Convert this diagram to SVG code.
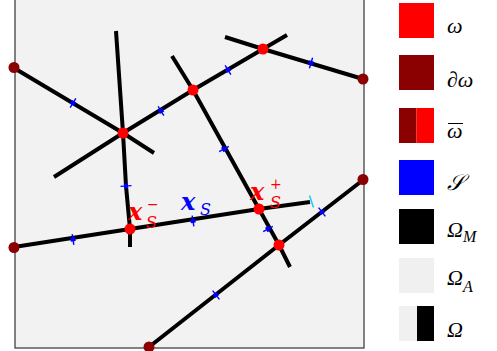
<svg xmlns="http://www.w3.org/2000/svg" xmlns:xlink="http://www.w3.org/1999/xlink" width="497" height="351" viewBox="0 0 497 351">
<style>
.seg{fill:none;stroke:#000;stroke-width:4;stroke-linejoin:round}
.nd{fill:#FF0000}
.bd{fill:#8B0000}
.lab{font-family:"DejaVu Serif","Liberation Serif",serif;font-style:italic}
.bx{font-weight:bold;font-size:24px}
.sub{font-size:16px}
.sup{font-size:14px}
.leg{font-family:"Liberation Serif","DejaVu Serif",serif;font-style:italic;font-size:22px;fill:#000}
</style>
<defs>
<g id="tick">
<line x1="-2.5" y1="0" x2="2.5" y2="0" stroke="#0000FF" stroke-width="4"/>
<line x1="0" y1="-5.5" x2="0" y2="5.5" stroke="#0000FF" stroke-width="1.4"/>
</g>
</defs>
<rect x="0" y="0" width="497" height="351" fill="#fff"/>
<rect id="domain" x="15" y="-5" width="349" height="353" fill="#F2F2F2" stroke="#333" stroke-width="1.2"/>
<g id="connectors">
<polyline class="seg" points="14,68 123,133 154,153"/>
<polyline class="seg" points="116,31 123,133 126,186 130,229 130,247"/>
<polyline class="seg" points="54,177 123,133 193,90 263,49 287,35"/>
<polyline class="seg" points="225,37 263,49 363,79"/>
<polyline class="seg" points="172,56 193,90 259,209 279,245 290,267"/>
<polyline class="seg" points="14,247 130,229 259,209 310,202"/>
<polyline class="seg" points="149,347 279,245 363,180"/>
<line x1="309.5" y1="195.5" x2="313.5" y2="207.5" stroke="#1EC8F0" stroke-width="1.5"/>
</g>
<g id="ticks">
<use xlink:href="#tick" transform="translate(73,103) rotate(31.3)"/>
<use xlink:href="#tick" transform="translate(126,186) rotate(86.3)"/>
<use xlink:href="#tick" transform="translate(161,111) rotate(-31.4)"/>
<use xlink:href="#tick" transform="translate(228,70) rotate(-31.4)"/>
<use xlink:href="#tick" transform="translate(311,63) rotate(16.7)"/>
<use xlink:href="#tick" transform="translate(224,149) rotate(61)"/>
<use xlink:href="#tick" transform="translate(268,229) rotate(61)"/>
<use xlink:href="#tick" transform="translate(73,239.5) rotate(-8.8)"/>
<use xlink:href="#tick" transform="translate(193,221) rotate(-8.8)"/>
<use xlink:href="#tick" transform="translate(216,295) rotate(-38.1)"/>
<use xlink:href="#tick" transform="translate(322,212) rotate(-38.1)"/>
</g>
<g id="n1"><circle class="nd" cx="123" cy="133" r="5.5"/></g>
<g id="n2"><circle class="nd" cx="193" cy="90" r="5.5"/></g>
<g id="n3"><circle class="nd" cx="263" cy="49" r="5.5"/></g>
<g id="n4"><circle class="nd" cx="130" cy="229" r="5.5"/></g>
<g id="n5"><circle class="nd" cx="259" cy="209" r="5.5"/></g>
<g id="n6"><circle class="nd" cx="279" cy="245" r="5.5"/></g>
<g id="b1"><circle class="bd" cx="14" cy="67.5" r="5.5"/></g>
<g id="b2"><circle class="bd" cx="363" cy="79" r="5.5"/></g>
<g id="b3"><circle class="bd" cx="14" cy="247.5" r="5.5"/></g>
<g id="b4"><circle class="bd" cx="363" cy="179.5" r="5.5"/></g>
<g id="b5"><circle class="bd" cx="149" cy="347" r="5.5"/></g>
<g id="lab-minus" class="lab" fill="#FF0000">
<text class="bx" x="128" y="220">x</text>
<text class="sub" x="146" y="228">S</text>
<text class="sup" x="147" y="209">−</text>
</g>
<g id="lab-s" class="lab" fill="#0000FF">
<text class="bx" x="181" y="210">x</text>
<text class="sub" x="200" y="215">S</text>
</g>
<g id="lab-plus" class="lab" fill="#FF0000">
<text class="bx" x="250" y="200">x</text>
<text class="sub" x="270" y="208">S</text>
<text class="sup" x="270" y="189">+</text>
</g>
<g id="legend">
<rect x="399" y="3" width="35" height="35" fill="#FF0000"/>
<text class="leg" x="447" y="33">ω</text>
<rect x="399" y="55" width="35" height="35" fill="#8B0000"/>
<text class="leg" x="447" y="87">∂ω</text>
<rect x="399" y="108" width="17.5" height="35" fill="#8B0000"/>
<rect x="416.5" y="108" width="17.5" height="35" fill="#FF0000"/>
<text class="leg" x="447" y="138">ω</text>
<line x1="448" y1="123.5" x2="463" y2="123.5" stroke="#000" stroke-width="1"/>
<rect x="399" y="160" width="35" height="35" fill="#0000FF"/>
<text class="leg" x="447" y="190" style="font-family:'DejaVu Serif','DejaVu Sans',serif">𝒮</text>
<rect x="399" y="209" width="35" height="35" fill="#000"/>
<text class="leg" x="447" y="237">Ω<tspan font-size="16" dy="5">M</tspan></text>
<rect x="399" y="258" width="35" height="35" fill="#F0F0F0"/>
<text class="leg" x="447" y="285">Ω<tspan font-size="16" dy="7">A</tspan></text>
<rect x="399" y="306" width="18" height="35" fill="#F0F0F0"/>
<rect x="417" y="306" width="17" height="35" fill="#000"/>
<text class="leg" x="447" y="337">Ω</text>
</g>
</svg>
